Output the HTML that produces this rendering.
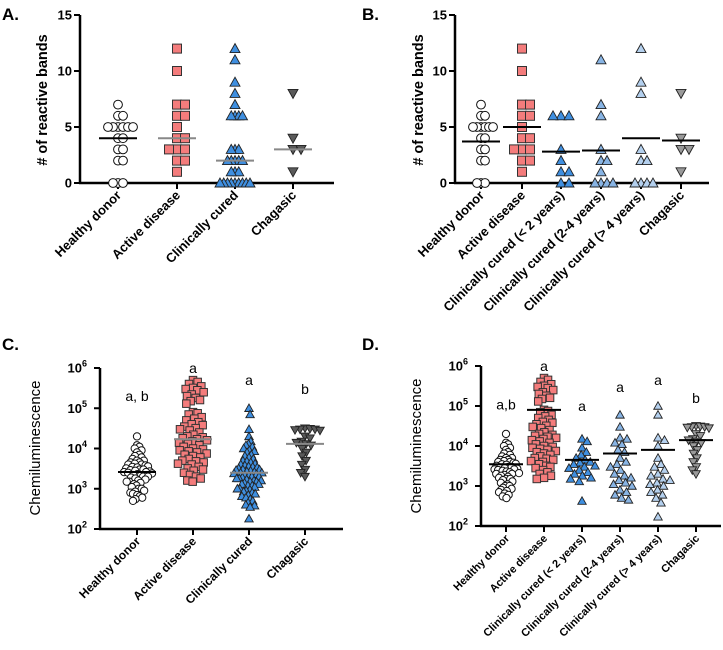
<!DOCTYPE html>
<html><head><meta charset="utf-8"><style>
html,body{margin:0;padding:0;background:#fff;}
svg{display:block;font-family:"Liberation Sans",Arial,sans-serif;}
</style></head><body>
<svg id="fig" width="723" height="650" viewBox="0 0 723 650" xmlns="http://www.w3.org/2000/svg">
<text x="2" y="20" font-size="17" font-weight="bold">A.</text>
<text x="362" y="20" font-size="17" font-weight="bold">B.</text>
<text x="2" y="350" font-size="17" font-weight="bold">C.</text>
<text x="362" y="350" font-size="17" font-weight="bold">D.</text>
</svg>
<script>
// ---- data ----
const catsA = ["Healthy donor","Active disease","Clinically cured","Chagasic"];
const catsB = ["Healthy donor","Active disease","Clinically cured (< 2 years)","Clinically cured (2-4 years)","Clinically cured (> 4 years)","Chagasic"];
const bandsHealthy = [7,6,6,5,5,5,5,5,5,4,4,3,3,2,2,0,0,0];
const bandsActive = [12,10,7,7,6,6,5,4,4,3,3,3,2,2,1];
const bandsCured = [12,11,9,8,7,6,6,6,6,3,3,3,2,2,2,2,2,1,1,1,0,0,0,0,0,0,0,0,0];
const bandsChagasic = [8,4,3,3,1];
const bandsCured2 = [6,6,6,3,2,1,1,0,0];
const bandsCured24 = [11,7,6,3,2,2,1,0,0,0,0];
const bandsCured4 = [12,9,8,3,2,2,0,0,0,0];
const linesA = [4,4,2,3];
const linesB = [3.7,5,2.8,2.9,4,3.8];
const chemHealthy = [20000,12000,11000,10000,9000,8000,7000,6500,6000,5500,5000,5000,4500,4500,4200,4000,4000,3800,3600,3500,3400,3200,3000,3000,2900,2800,2700,2600,2600,2500,2400,2300,2200,2100,2000,2000,1900,1800,1700,1600,1500,1500,1400,1300,1200,1100,1000,1000,900,850,800,750,700,650,600,550,500];
const chemActive = [500000,450000,400000,350000,320000,300000,280000,250000,220000,200000,180000,160000,150000,130000,80000,75000,70000,60000,55000,50000,45000,40000,38000,35000,32000,30000,28000,25000,22000,20000,19000,18000,17000,16000,15000,14000,13000,12000,11000,10000,9500,9000,8500,8000,7500,7000,6500,6000,5500,5000,4800,4500,4200,4000,3500,3200,3000,2800,2500,2200,2000,1800,1600,1500];
const chemCured = [100000,70000,30000,20000,15000,13000,12000,11000,10000,9000,8500,8000,7000,6500,6000,5500,5000,4800,4500,4200,4000,3800,3600,3500,3400,3200,3000,3000,2900,2800,2700,2600,2500,2500,2400,2300,2200,2100,2000,2000,1900,1800,1800,1700,1600,1600,1500,1500,1400,1300,1300,1200,1200,1100,1000,1000,950,900,850,800,750,700,650,600,550,500,450,400,380,350,180];
const chemChagasic = [32000,31000,30000,30000,29000,28000,20000,18000,15000,14000,13000,12000,10000,8000,6500,5000,4000,3000,2500,2000];
const chemCured2 = [15000,13000,9000,7000,6000,5000,4500,4000,3800,3500,3200,3000,2800,2500,2200,2000,1800,1600,1500,1300,420];
const chemCured24 = [60000,30000,16000,15000,12000,11000,8000,7000,5000,4000,3500,3000,2500,2000,1800,1600,1400,1200,1100,1000,800,700,600,500,450];
const chemCured4 = [100000,60000,16000,14000,10000,5000,3500,3000,2500,2000,1800,1500,1400,1200,1100,1000,800,700,600,500,380,170];
const linesC = [2600,17000,2500,13000];
const linesD = [3500,80000,4500,6500,8000,14000];
const lettersC = ["a, b","a","a","b"];
const lettersD = ["a,b","a","a","a","a","b"];
const lettersCy = [200000,1000000,500000,300000];
const lettersDy = [110000,1000000,100000,300000,450000,160000];
const ticksLin = [0,5,10,15];
const ticksLog = [2,3,4,5,6];

const NS="http://www.w3.org/2000/svg";
const svg=document.getElementById('fig');
function mk(tag,attrs,parent){const e=document.createElementNS(NS,tag);for(const k in attrs)e.setAttribute(k,attrs[k]);(parent||svg).appendChild(e);return e;}

const styles={
 circle:{shape:'circle',fill:'#fff'},
 square:{shape:'square',fill:'#f47c7c'},
 triBlue:{shape:'tri',fill:'#3f8fe0'},
 triMid:{shape:'tri',fill:'#88b4e4'},
 triLight:{shape:'tri',fill:'#b4d0ee'},
 invDark:{shape:'inv',fill:'#5a5a5a'},
 invLight:{shape:'inv',fill:'#9a9a9a'}
};

function marker(g,st,x,y,s){
 let e;
 if(st.shape==='circle') e=mk('circle',{cx:x,cy:y,r:s/2-0.6,fill:st.fill,stroke:'#111','stroke-width':1},g);
 else if(st.shape==='square') e=mk('rect',{x:x-s/2+0.5,y:y-s/2+0.5,width:s-1,height:s-1,fill:st.fill,stroke:'#333','stroke-width':1},g);
 else if(st.shape==='tri') e=mk('polygon',{points:`${x},${y-s/2} ${x-s/2},${y+s/2-1} ${x+s/2},${y+s/2-1}`,fill:st.fill,stroke:'#222','stroke-width':0.9},g);
 else e=mk('polygon',{points:`${x},${y+s/2} ${x-s/2},${y-s/2+1} ${x+s/2},${y-s/2+1}`,fill:st.fill,stroke:'#222','stroke-width':0.9},g);
 
 
}

function swarm(vals,cx,yf,d,maxHalf){
 const pts=[];
 const sorted=vals.slice().sort((a,b)=>b-a);
 for(const v of sorted){
  const y=yf(v);let best=0;
  for(let k=0;k<400;k++){
   const cand=[k*0.5,-k*0.5];let found=null;
   for(const c of cand){
    let ok=true;
    for(const p of pts){const dx=p[0]-c,dy=p[1]-y;if(dx*dx+dy*dy<d*d){ok=false;break;}}
    if(ok){found=c;break;}
   }
   if(found!==null){best=found;break;}
  }
  pts.push([best,y]);
 }
 let m=0;pts.forEach(p=>{m=Math.max(m,Math.abs(p[0]));});
 const sc=m>maxHalf?maxHalf/m:1;
 return pts.map(p=>[cx+p[0]*sc,p[1]]);
}

function panel(cfg){
 const g=mk('g',{});
 
 
 const {ax,x1,yTop,yBot,lo,hi,log}=cfg;
 const yf=v=>{const t=log?Math.log10(v):v;return yBot-(t-lo)/(hi-lo)*(yBot-yTop);};
 const ya=mk('line',{x1:ax,y1:yTop,x2:ax,y2:yBot+1,stroke:'#000','stroke-width':2.5},g);
 
 const xa=mk('line',{x1:ax-1,y1:yBot,x2:x1,y2:yBot,stroke:'#000','stroke-width':2.5},g);
 
 const ticks=log?ticksLog:ticksLin;
 ticks.forEach(t=>{
  const y=log?yf(Math.pow(10,t)):yf(t);
  mk('line',{x1:ax-6,y1:y,x2:ax,y2:y,stroke:'#000','stroke-width':2},g);
  const tx=mk('text',{x:ax-8,y:y+4.5,'text-anchor':'end','font-size':13,'font-weight':'bold'},g);
  
  if(log){tx.textContent='10';const sp=mk('tspan',{dy:-6,'font-size':9},tx);sp.textContent=String(t);tx.setAttribute('x',ax-13);}
  else tx.textContent=String(t);
 });
 const yt=mk('text',{x:0,y:0,transform:`translate(${cfg.titleX},${cfg.titleY}) rotate(-90)`,'text-anchor':'middle','font-size':cfg.titleSize,'font-weight':cfg.titleBold?'bold':'normal'},g);
 
 yt.textContent=cfg.title;
 cfg.cats.forEach((c,i)=>{
  const cx=cfg.xs[i];
  mk('line',{x1:cx,y1:yBot,x2:cx,y2:yBot+6,stroke:'#000','stroke-width':2},g);
  const lt=mk('text',{x:0,y:0,transform:`translate(${cx+4},${yBot+13}) rotate(-45)`,'text-anchor':'end','font-size':cfg.labelSize,'font-weight':'bold'},g);
  
  lt.textContent=c;
  const sg=mk('g',{},g);
  
  
  const pts=swarm(cfg.data[i],cx,yf,cfg.ms*cfg.coll,cfg.maxHalf);
  pts.forEach(p=>marker(sg,cfg.styles[i],p[0],p[1],cfg.ms));
  const ly=yf(cfg.lines[i]);
  const ml=mk('line',{x1:cx-cfg.lw,y1:ly,x2:cx+cfg.lw,y2:ly,stroke:cfg.lineCol[i],'stroke-width':2},g);
  
  if(cfg.letters){
   const lt2=mk('text',{x:cx,y:yf(cfg.lettersY[i])+5,'text-anchor':'middle','font-size':14},g);
   
   lt2.textContent=cfg.letters[i];
  }
 });
}

panel({name:'panel-a',ax:80,x1:334,yTop:15,yBot:183,lo:0,hi:15,log:false,
 title:'# of reactive bands',titleX:47,titleY:100,titleSize:14.5,titleBold:true,labelSize:13,
 cats:catsA,xs:[118,177,235,293],data:[bandsHealthy,bandsActive,bandsCured,bandsChagasic],
 styles:[styles.circle,styles.square,styles.triBlue,styles.invDark],ms:10,coll:0.8,maxHalf:15,lw:19,lines:linesA,
 lineCol:['#000','#888','#888','#888']});
panel({name:'panel-b',ax:455,x1:709,yTop:15,yBot:183,lo:0,hi:15,log:false,
 title:'# of reactive bands',titleX:423,titleY:100,titleSize:14.5,titleBold:true,labelSize:13,
 cats:catsB,xs:[481,522,561,601,641,681],data:[bandsHealthy,bandsActive,bandsCured2,bandsCured24,bandsCured4,bandsChagasic],
 styles:[styles.circle,styles.square,styles.triBlue,styles.triMid,styles.triLight,styles.invLight],ms:10,coll:0.8,maxHalf:12,lw:19,lines:linesB,
 lineCol:['#000','#000','#000','#000','#000','#000']});
panel({name:'panel-c',ax:100,x1:343,yTop:368,yBot:529,lo:2,hi:6,log:true,
 title:'Chemiluminescence',titleX:40,titleY:448,titleSize:15,titleBold:false,labelSize:12,
 cats:catsA,xs:[137,193,249,305],data:[chemHealthy,chemActive,chemCured,chemChagasic],
 styles:[styles.circle,styles.square,styles.triBlue,styles.invDark],ms:8.5,coll:0.8,maxHalf:15,lw:19,lines:linesC,
 lineCol:['#000','#888','#888','#888'],letters:lettersC,lettersY:lettersCy});
panel({name:'panel-d',ax:481,x1:721,yTop:366,yBot:526,lo:2,hi:6,log:true,
 title:'Chemiluminescence',titleX:421,titleY:446,titleSize:15,titleBold:false,labelSize:11,
 cats:catsB,xs:[506,544,582,620,658,696],data:[chemHealthy,chemActive,chemCured2,chemCured24,chemCured4,chemChagasic],
 styles:[styles.circle,styles.square,styles.triBlue,styles.triMid,styles.triLight,styles.invLight],ms:8.5,coll:0.8,maxHalf:13,lw:17,lines:linesD,
 lineCol:['#000','#000','#000','#000','#000','#000'],letters:lettersD,lettersY:lettersDy});
</script>
</body></html>
